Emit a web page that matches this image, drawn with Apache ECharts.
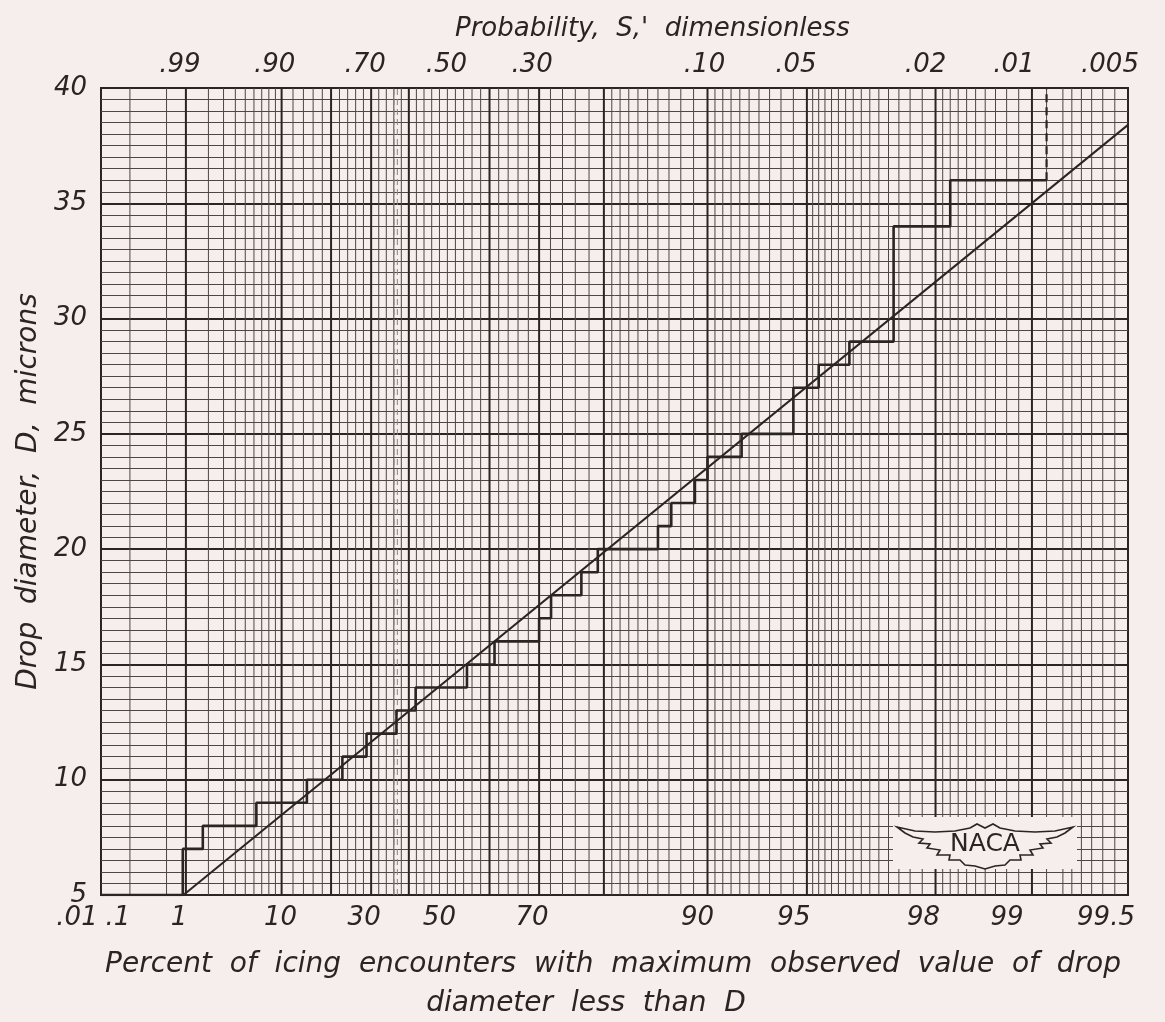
<!DOCTYPE html>
<html><head><meta charset="utf-8">
<script src="https://cdn.jsdelivr.net/npm/echarts@6/dist/echarts.min.js"></script>
<style>html,body{margin:0;padding:0;background:#f5eeec;}#c{width:1165px;height:1022px;}</style>
</head><body><div id="c"></div>
<script>
// ---------- data ----------
const bottomTickPercents = [0.01, 0.1, 1, 10, 30, 50, 70, 90, 95, 98, 99, 99.5];
const bottomTickLabels = ['.01', '.1', '1', '10', '30', '50', '70', '90', '95', '98', '99', '99.5'];
const topTickPercents = [1, 10, 30, 50, 70, 90, 95, 98, 99, 99.5];
const topTickLabels = ['.99', '.90', '.70', '.50', '.30', '.10', '.05', '.02', '.01', '.005'];
const yTicks = [5, 10, 15, 20, 25, 30, 35, 40];

const majorGridPercents = [1, 10, 20, 30, 40, 60, 70, 80, 90, 95, 98, 99];
const minorGridPercents = [0.1, 0.5, 2, 3, 4, 5, 6, 7, 8, 9, 12, 14, 16, 18, 22, 24, 26, 28,
  32, 34, 36, 38, 42, 44, 46, 48, 50, 52, 54, 56, 58, 62, 64, 66, 68, 72, 74, 76, 78,
  81, 82, 83, 84, 85, 86, 87, 88, 89, 90.5, 91, 91.5, 92, 92.5, 93, 93.5, 94, 94.5,
  95.2, 95.4, 95.6, 95.8, 96, 96.2, 96.4, 96.6, 96.8, 97, 97.2, 97.4, 97.6, 97.8,
  98.1, 98.2, 98.3, 98.4, 98.5, 98.6, 98.7, 98.8, 98.9, 99.1, 99.2, 99.25, 99.3, 99.35, 99.4, 99.45];
const modeLinePercents = [36.05, 36.94];

// observed staircase: drop diameter level and the percent where it starts
const stepLevels = [5, 7, 8, 9, 10, 11, 12, 13, 14, 15, 16, 17, 18, 19, 20, 21, 22, 23, 24, 25, 27, 28, 29, 34, 36];
const stepStartPercents = [0.02, 0.9, 1.7, 6.3, 14.7, 22.7, 28.8, 36.7, 41.8, 54.8, 61.1, 70.0, 72.1, 76.9, 79.2, 86.0, 87.2, 89.1, 90.0, 92.1, 94.5, 95.4, 96.3, 97.3, 98.2];
const stepEndPercent = 99.1;
const stepExtensionDiameters = [36, 40];

// fitted straight line
const fitLinePercents = [0.92, 99.5];
const fitLineDiameters = [5, 38.4];

// ---------- styles ----------
const TEXT = '#2b2422';
const LINE = '#2a2422';
const MINOR = '#4f4644';
const FONT = "'DejaVu Sans', sans-serif";
const bottomLabelShift = [24, 12, 7, 1, 7, 8, 7, 10, 13, 12, 25, 22];
const topLabelShift = [6, 7, 6, 1, 7, 3, 11, 10, 18, 18];

// extreme-value probability scale
const g = p => -Math.log(-Math.log(p / 100));
const X_MIN = g(0.02), X_MAX = g(99.5);
const EPS = 1e-6;
const toX = p => Math.min(Math.max(g(p), X_MIN), X_MAX);
const toTickX = p => Math.min(Math.max(g(p), X_MIN + EPS), X_MAX - EPS);

const bottomVals = bottomTickPercents.map(toTickX);
const topVals = topTickPercents.map(toTickX);
const findIdx = (arr, v) => { let b = 0; for (let i = 0; i < arr.length; i++) if (Math.abs(arr[i] - v) < Math.abs(arr[b] - v)) b = i; return b; };

const bottomRich = {}, topRich = {};
bottomLabelShift.forEach((s, i) => bottomRich['b' + i] = {fontSize: 26, fontStyle: 'italic', fontFamily: FONT, color: TEXT, padding: [0, 2 * s, 0, 0]});
topLabelShift.forEach((s, i) => topRich['t' + i] = {fontSize: 26, fontStyle: 'italic', fontFamily: FONT, color: TEXT, padding: [0, 2 * s, 0, 0]});

const stepData = [];
stepLevels.forEach((d, i) => {
  const end = i + 1 < stepLevels.length ? stepStartPercents[i + 1] : stepEndPercent;
  stepData.push([toX(stepStartPercents[i]), d]);
  stepData.push([toX(end), d]);
});

const vline = (color, width, dash) => (params, api) => {
  const x = api.value(0);
  const a = api.coord([x, 5]), b = api.coord([x, 40]);
  return {type: 'line', shape: {x1: a[0], y1: a[1], x2: b[0], y2: b[1]},
    style: {stroke: color, lineWidth: width, lineDash: dash || null}};
};

const wing = [[-88,-18],[-70,-14],[-50,-13],[-30,-14],[-15,-17],[-8,-21],[0,-17],[8,-21],[15,-17],[30,-14],[50,-13],[70,-14],[88,-18],
  [80,-12],[72,-8],[62,-6],[66,-2],[55,-1],[58,3],[45,5],[48,10],[35,10],[36,15],[25,15],[20,20],[10,21],[0,24],
  [-10,21],[-20,20],[-25,15],[-36,15],[-35,10],[-48,10],[-45,5],[-58,3],[-55,-1],[-66,-2],[-62,-6],[-72,-8],[-80,-12]];

const bottomLabelAxis = (vals) => ({
  type: 'value', position: 'bottom', min: X_MIN, max: X_MAX,
  axisLine: {show: false}, axisTick: {show: false}, splitLine: {show: false},
  axisLabel: {customValues: vals, margin: 10, rich: bottomRich, showMinLabel: true, showMaxLabel: true, hideOverlap: false,
    formatter: v => { const i = findIdx(bottomVals, v); return '{b' + i + '|' + bottomTickLabels[i] + '}'; }}
});

const chart = echarts.init(document.getElementById('c'), null, {renderer: 'canvas'});
chart.setOption({
  backgroundColor: '#f5eeec',
  animation: false,
  grid: {left: 101, top: 88, width: 1027, height: 807, show: true, borderColor: LINE, borderWidth: 2, outerBoundsMode: 'none'},
  xAxis: [
    bottomLabelAxis(bottomVals.filter((v, i) => i % 2 === 1)),
    {
      type: 'value', position: 'top', min: X_MIN, max: X_MAX,
      axisLine: {show: false}, axisTick: {show: false}, splitLine: {show: false},
      axisLabel: {customValues: topVals, margin: 10, rich: topRich, showMinLabel: true, showMaxLabel: true, hideOverlap: false,
        formatter: v => { const i = findIdx(topVals, v); return '{t' + i + '|' + topTickLabels[i] + '}'; }}
    },
    bottomLabelAxis(bottomVals.filter((v, i) => i % 2 === 0))
  ],
  yAxis: {
    type: 'value', min: 5, max: 40, interval: 5,
    axisLine: {show: false}, axisTick: {show: false},
    axisLabel: {margin: 14, fontSize: 26, fontStyle: 'italic', fontFamily: FONT, color: TEXT,
      formatter: v => yTicks.indexOf(v) >= 0 ? String(v) : ''},
    splitLine: {show: true, lineStyle: {color: LINE, width: 2}},
    minorTick: {show: false, splitNumber: 10},
    minorSplitLine: {show: true, lineStyle: {color: MINOR, width: 1}},
    name: 'Drop  diameter,  D,  microns', nameLocation: 'middle', nameGap: 58, nameRotate: 90,
    nameTextStyle: {fontSize: 28, fontStyle: 'italic', fontFamily: FONT, color: TEXT}
  },
  series: [
    {type: 'custom', name: 'minor grid', silent: true, z: 1, renderItem: vline(MINOR, 1),
      data: minorGridPercents.map(p => [toX(p), 5]), encode: {x: 0, y: 1}},
    {type: 'custom', name: 'major grid', silent: true, z: 1, renderItem: vline(LINE, 2),
      data: majorGridPercents.map(p => [toX(p), 5]), encode: {x: 0, y: 1}},
    {type: 'custom', name: 'mode', silent: true, z: 1, renderItem: vline('#8c817e', 1, [6, 4]),
      data: modeLinePercents.map(p => [toX(p), 5]), encode: {x: 0, y: 1}},
    {type: 'line', name: 'observed', data: stepData, symbol: 'none', z: 5,
      lineStyle: {color: LINE, width: 2.6}},
    {type: 'line', name: 'observed ext', data: stepExtensionDiameters.map(d => [toX(stepEndPercent), d]), symbol: 'none', z: 5,
      lineStyle: {color: LINE, width: 2.2, type: [8, 5]}},
    {type: 'line', name: 'fit', data: fitLinePercents.map((p, i) => [toX(p), fitLineDiameters[i]]), symbol: 'none', z: 6,
      lineStyle: {color: LINE, width: 2}}
  ],
  graphic: [
    {type: 'text', left: 455, top: 16, z: 50,
      style: {text: "Probability,  S,'  dimensionless", fontSize: 26, fontStyle: 'italic', fontFamily: FONT, fill: TEXT}},
    {type: 'text', x: 613, y: 965, z: 50,
      style: {text: 'Percent  of  icing  encounters  with  maximum  observed  value  of  drop', fontSize: 28, fontStyle: 'italic', fontFamily: FONT, fill: TEXT, align: 'center', verticalAlign: 'middle'}},
    {type: 'text', x: 586, y: 1004, z: 50,
      style: {text: 'diameter  less  than  D', fontSize: 28, fontStyle: 'italic', fontFamily: FONT, fill: TEXT, align: 'center', verticalAlign: 'middle'}},
    {type: 'rect', z: 50, shape: {x: 893, y: 817, width: 184, height: 52}, style: {fill: '#f5eeec'}},
    {type: 'polygon', z: 51, x: 985, y: 845, shape: {points: wing}, style: {fill: '#f5eeec', stroke: LINE, lineWidth: 1.6}},
    {type: 'text', z: 52, x: 985, y: 844, style: {text: 'NACA', fontSize: 25, fontFamily: FONT, fill: TEXT, align: 'center', verticalAlign: 'middle'}}
  ]
});
</script></body></html>
